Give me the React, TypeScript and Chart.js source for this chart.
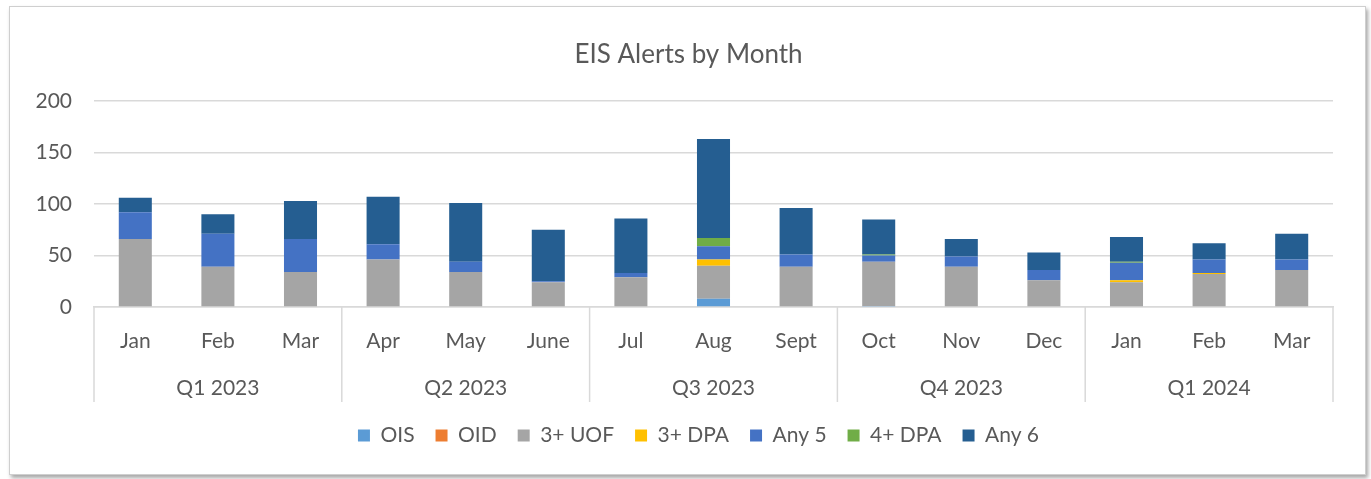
import React, { useEffect, useRef } from "react";
import { Chart, registerables } from "chart.js";

Chart.register(...registerables);

const months = ["Jan", "Feb", "Mar", "Apr", "May", "June", "Jul", "Aug", "Sept", "Oct", "Nov", "Dec", "Jan", "Feb", "Mar"];
const quarters = ["Q1 2023", "Q2 2023", "Q3 2023", "Q4 2023", "Q1 2024"];
const yTicks = [0, 50, 100, 150, 200];

const ois = [0, 0, 0, 0, 0, 0, 0, 8, 0, 1, 0, 0, 0, 0, 0];
const oid = [0, 0, 0, 0, 0, 0, 0, 0, 0, 0, 0, 0, 0, 0, 0];
const uof3 = [66, 39, 34, 46, 34, 24, 29, 32, 39, 43, 39, 26, 24, 32, 36];
const dpa3 = [0, 0, 0, 0, 0, 0, 0, 6, 0, 0, 0, 0, 2, 1, 0];
const any5 = [26, 32, 32, 15, 10, 1, 4, 13, 12, 6, 10, 10, 17, 13, 10];
const dpa4 = [0, 0, 0, 0, 0, 0, 0, 8, 0, 1, 0, 0, 1, 0, 0];
const any6 = [14, 19, 37, 46, 57, 50, 53, 96, 45, 34, 17, 17, 24, 16, 25];

const FONT = "Lato, 'Open Sans', sans-serif";
const TEXT = "#595959";

const quarterPlugin = {
  id: "quarterGroups",
  afterLayout(chart: any) {
    const lg = chart.legend;
    if (lg) { lg.left += 27; lg.right += 27; }
    const tt = chart.titleBlock;
    if (tt) { tt.left += 17; tt.right += 17; }
  },
  afterDraw(chart: any) {
    const x = chart.scales.x;
    const ctx = chart.ctx;
    const area = chart.chartArea;
    const per = months.length / quarters.length;
    const step = (area.right - area.left) / months.length;
    ctx.save();
    ctx.strokeStyle = "#d9d9d9";
    ctx.lineWidth = 1.5;
    for (let g = 0; g <= quarters.length; g++) {
      const px = area.left + g * per * step;
      ctx.beginPath();
      ctx.moveTo(px, area.bottom);
      ctx.lineTo(px, area.bottom + 95);
      ctx.stroke();
    }
    ctx.fillStyle = TEXT;
    ctx.font = "21px " + FONT;
    ctx.textAlign = "center";
    ctx.textBaseline = "middle";
    quarters.forEach((q, g) => {
      const a = x.getPixelForTick(g * per);
      const b = x.getPixelForTick(g * per + per - 1);
      ctx.fillText(q, (a + b) / 2, area.bottom + 81);
    });
    ctx.restore();
  },
};

export default function App() {
  const ref = useRef<HTMLCanvasElement | null>(null);
  useEffect(() => {
    if (!ref.current) return;
    const mk = (label: string, data: number[], color: string) => ({
      label,
      data,
      backgroundColor: color,
      borderWidth: 0,
      barPercentage: 0.4,
      categoryPercentage: 1,
    });
    const chart = new Chart(ref.current, {
      type: "bar",
      data: {
        labels: months,
        datasets: [
          mk("OIS", ois, "#5B9BD5"),
          mk("OID", oid, "#ED7D31"),
          mk("3+ UOF", uof3, "#A5A5A5"),
          mk("3+ DPA", dpa3, "#FFC000"),
          mk("Any 5", any5, "#4472C4"),
          mk("4+ DPA", dpa4, "#70AD47"),
          mk("Any 6", any6, "#255E91"),
        ],
      },
      plugins: [quarterPlugin],
      options: {
        animation: false,
        responsive: false,
        maintainAspectRatio: false,
        layout: { padding: { left: 10, right: 38, top: 0, bottom: 23 } },
        plugins: {
          tooltip: { enabled: false },
          title: {
            display: true,
            text: "EIS Alerts by Month",
            color: TEXT,
            font: { family: FONT, size: 26, weight: "normal" },
            padding: { top: 39.4, bottom: 30.4 },
          },
          legend: {
            position: "bottom",
            labels: {
              color: TEXT,
              font: { family: FONT, size: 21 },
              boxWidth: 12,
              boxHeight: 12,
              padding: 21,
            },
          },
        },
        scales: {
          x: {
            stacked: true,
            grid: { display: false, drawTicks: false },
            border: { display: true, color: "#d9d9d9", width: 1.5 },
            ticks: { color: TEXT, font: { family: FONT, size: 21 }, padding: 22, maxRotation: 0, autoSkip: false },
            afterFit: (s: any) => { s.height = 97; },
          },
          y: {
            stacked: true,
            min: 0,
            max: 200,
            afterBuildTicks: (s: any) => { s.ticks = yTicks.map((v) => ({ value: v })); },
            grid: { color: "#d9d9d9", lineWidth: 1.5, drawTicks: false },
            border: { display: false },
            ticks: { color: TEXT, font: { family: FONT, size: 21 }, padding: 22 },
            afterFit: (s: any) => { s.width = 84; },
          },
        },
      },
    });
    return () => chart.destroy();
  }, []);
  return (
    <div style={{ position: "fixed", left: 0, top: 0, width: 1371, height: 479, background: "#fff" }}>
      <div
        style={{
          position: "absolute",
          left: 9,
          top: 6,
          width: 1355,
          height: 467,
          border: "1px solid #cfcfcf",
          boxShadow: "2px 3px 4px rgba(0,0,0,0.35)",
          background: "#fff",
        }}
      />
      <canvas ref={ref} width={1371} height={479} style={{ position: "absolute", left: 0, top: 0 }} />
    </div>
  );
}
